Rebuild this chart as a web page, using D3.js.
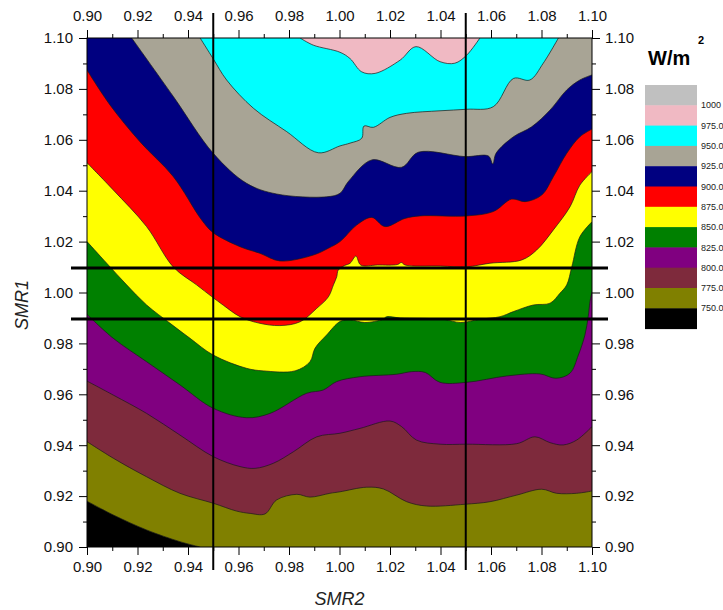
<!DOCTYPE html>
<html>
<head>
<meta charset="utf-8">
<script src="https://cdn.jsdelivr.net/npm/d3@7"></script>
<style>
  body { margin: 0; background: #fff; }
  svg { display: block; font-family: Arial, "Liberation Sans", sans-serif; }
</style>
</head>
<body>
<svg id="chart"></svg>
<script>
// contour levels (W/m2) and their band colours, lowest band first
const levels = [750, 775, 800, 825, 850, 875, 900, 925, 950, 975, 1000];
const bandColors = ["#000000", "#808000", "#7e2a3c", "#800080", "#008000", "#ffff00",
                    "#ff0000", "#000080", "#a8a495", "#00ffff", "#f0b9c3", "#c0c0c0"];
const legendLabels = ["750.0", "775.0", "800.0", "825.0", "850.0", "875.0",
                      "900.0", "925.0", "950.0", "975.0", "1000"];

const xTicks = [0.90, 0.92, 0.94, 0.96, 0.98, 1.00, 1.02, 1.04, 1.06, 1.08, 1.10];
const yTicks = [0.90, 0.92, 0.94, 0.96, 0.98, 1.00, 1.02, 1.04, 1.06, 1.08, 1.10];
const refX = [0.95, 1.05];   // vertical SMR2 lines
const refY = [0.99, 1.01];   // horizontal SMR1 lines

// contour lines as [SMR2, SMR1] points, higher values on the left of travel
const line750 = [[0.90,0.918],[0.9104,0.9126],[0.9236,0.9067],[0.9368,0.9021],[0.9448,0.90]];
const line775 = [[0.90,0.9414],[0.9104,0.9349],[0.9236,0.9276],[0.9368,0.9211],[0.95,0.9172],
  [0.9593,0.9141],[0.9646,0.9132],[0.9705,0.9130],[0.9751,0.9185],[0.9831,0.9207],[0.9883,0.9196],
  [0.9962,0.9211],[1.0002,0.9217],[1.0108,0.9235],[1.0174,0.9228],[1.0266,0.9178],[1.0345,0.9161],
  [1.0497,0.9168],[1.0596,0.9178],[1.0702,0.9204],[1.0801,0.9227],[1.0860,0.9211],[1.0939,0.9211],
  [1.10,0.9220]];
const line800 = [[0.90,0.9652],[0.9104,0.9597],[0.9236,0.9525],[0.9368,0.9440],[0.95,0.9355],
  [0.9606,0.9316],[0.9665,0.9309],[0.9738,0.9329],[0.9817,0.9374],[0.9910,0.9433],[1.0002,0.9447],
  [1.0081,0.9466],[1.0200,0.9495],[1.0246,0.9473],[1.0305,0.9420],[1.0398,0.9404],[1.0504,0.9404],
  [1.0702,0.9406],[1.0774,0.9433],[1.0834,0.9410],[1.0886,0.9401],[1.0939,0.9420],[1.10,0.9473]];
const line825 = [[0.90,0.9914],[0.9104,0.9820],[0.9236,0.9728],[0.9368,0.9637],[0.95,0.9545],
  [0.9632,0.9508],[0.9725,0.9525],[0.9870,0.9604],[0.9936,0.9617],[0.9989,0.9650],[1.0081,0.9669],
  [1.0227,0.9679],[1.0286,0.9689],[1.0339,0.9686],[1.0398,0.9647],[1.0504,0.9647],[1.0662,0.9672],
  [1.0794,0.9680],[1.0857,0.9663],[1.0913,0.9683],[1.0946,0.9754],[1.0972,0.9833],[1.0985,0.9905],
  [1.0992,0.9964],[1.10,1.0003]];
const line850 = [[0.90,1.0200],[0.9078,1.0115],[0.9157,1.0030],[0.9236,0.9951],[0.9329,0.9879],
  [0.9408,0.9820],[0.95,0.9754],[0.9632,0.9702],[0.9698,0.9692],[0.9824,0.9692],[0.9883,0.9728],
  [0.9903,0.9781],[0.9949,0.9833],[1.0002,0.9886],[1.0042,0.9893],[1.0100,0.9882],[1.0172,0.9895],
  [1.0187,0.9905],[1.0240,0.9900],[1.0410,0.9895],[1.0480,0.9882],[1.0556,0.9895],[1.0636,0.9905],
  [1.0689,0.9925],[1.0768,0.9951],[1.0834,0.9958],[1.0873,0.9997],[1.0900,1.0030],[1.0920,1.0101],
  [1.0952,1.0219],[1.10,1.0278]];
const line875 = [[0.90,1.0510],[0.9104,1.0403],[0.9236,1.0259],[0.9342,1.0100],[0.9434,1.0030],
  [0.9494,0.9984],[0.9540,0.9950],[0.9606,0.9905],[0.9680,0.9880],[0.9764,0.9870],[0.9844,0.9885],
  [0.9910,0.9938],[0.9956,0.9983],[0.9976,1.0030],[0.9989,1.0062],[0.9995,1.0088],[1.0020,1.0106],
  [1.0042,1.0115],[1.0065,1.0143],[1.0084,1.0108],[1.0150,1.0108],[1.0230,1.0110],[1.0245,1.0118],
  [1.0260,1.0108],[1.0400,1.0104],[1.0504,1.0101],[1.0596,1.0115],[1.0722,1.0128],[1.0781,1.0167],
  [1.0847,1.0246],[1.0913,1.0337],[1.0952,1.0422],[1.10,1.0475]];
const line900 = [[0.90,1.0874],[0.9091,1.0737],[0.9210,1.0592],[0.9342,1.0455],[0.9454,1.0285],
  [0.95,1.0235],[0.9606,1.0180],[0.9685,1.0154],[0.9764,1.0124],[0.9896,1.0147],[0.9956,1.0174],
  [1.0002,1.0200],[1.0068,1.0265],[1.0128,1.0295],[1.0180,1.0259],[1.0259,1.0291],[1.0319,1.0301],
  [1.0504,1.0301],[1.0609,1.0318],[1.0682,1.0367],[1.0735,1.0357],[1.0801,1.0383],[1.0847,1.0455],
  [1.0900,1.0547],[1.0952,1.0612],[1.10,1.0642]];
const line925 = [[0.9177,1.10],[0.9342,1.0770],[0.95,1.0547],[0.9632,1.0429],[0.9751,1.0387],
  [0.9949,1.0376],[1.0002,1.0390],[1.0035,1.0436],[1.0128,1.0521],[1.0246,1.0492],[1.0312,1.0551],
  [1.0497,1.0534],[1.0590,1.0536],[1.0607,1.0505],[1.0620,1.0547],[1.0689,1.0612],[1.0761,1.0651],
  [1.0834,1.0717],[1.0900,1.0796],[1.0952,1.0835],[1.10,1.0855]];
const line950 = [[0.9448,1.10],[0.95,1.0918],[0.9553,1.0835],[0.9659,1.0724],[0.9791,1.0632],
  [0.9916,1.0549],[1.0002,1.0576],[1.0042,1.0587],[1.0088,1.0606],[1.0097,1.0654],[1.0134,1.0649],
  [1.0200,1.0688],[1.0266,1.0704],[1.0398,1.0714],[1.0504,1.0720],[1.0609,1.0730],[1.0689,1.0841],
  [1.0754,1.0835],[1.0807,1.0901],[1.0867,1.10]];
const line975 = [[0.9844,1.10],[0.9896,1.0972],[1.0002,1.0944],[1.0042,1.0919],[1.0088,1.0867],
  [1.0141,1.0861],[1.0240,1.0913],[1.0303,1.0966],[1.0398,1.0907],[1.0457,1.0901],[1.0504,1.0933],
  [1.0556,1.10]];

const contourLines = [line750, line775, line800, line825, line850, line875,
                      line900, line925, line950, line975];

const width = 723, height = 610;
const margin = { left: 87, right: 131, top: 38, bottom: 63 };
const svg = d3.select("#chart").attr("width", width).attr("height", height);

const x = d3.scaleLinear().domain([0.90, 1.10]).range([margin.left, width - margin.right]);
const y = d3.scaleLinear().domain([0.90, 1.10]).range([height - margin.bottom, margin.top]);
const [x0, x1] = x.domain(), [y0, y1] = y.domain();
const w = x1 - x0, h = y1 - y0;

// position of a border point along the frame, counter-clockwise from bottom-left
function perim([px, py]) {
  const d = [Math.abs(py - y0), Math.abs(px - x1), Math.abs(py - y1), Math.abs(px - x0)];
  const side = d.indexOf(d3.min(d));
  if (side === 0) return px - x0;
  if (side === 1) return w + (py - y0);
  if (side === 2) return w + h + (x1 - px);
  return 2 * w + h + (y1 - py);
}
const corners = [[x1, y0], [x1, y1], [x0, y1], [x0, y0]];
const cornerT = [w, w + h, 2 * w + h, 2 * w + 2 * h];

// frame corners to walk from the end of a contour back to its start (region above the line)
function closingCorners(pts) {
  const tEnd = perim(pts[pts.length - 1]);
  let tStart = perim(pts[0]);
  if (tStart <= tEnd) tStart += 2 * (w + h);
  const extra = [];
  for (let k = 0; k < 8; k++) {
    const t = cornerT[k % 4] + (k >= 4 ? 2 * (w + h) : 0);
    if (t > tEnd && t < tStart) extra.push(corners[k % 4]);
  }
  return extra;
}

const line = d3.line()
  .x(d => x(d[0])).y(d => y(d[1]))
  .curve(d3.curveCatmullRom.alpha(0.5));

function bandPath(pts) {
  const tail = closingCorners(pts).map(c => `L${x(c[0])},${y(c[1])}`).join("");
  return line(pts) + tail + "Z";
}

svg.append("defs").append("clipPath").attr("id", "plotClip")
  .append("rect")
  .attr("x", x(x0)).attr("y", y(y1))
  .attr("width", x(x1) - x(x0)).attr("height", y(y0) - y(y1));

const plot = svg.append("g").attr("clip-path", "url(#plotClip)");

// lowest band as background, then each band above its contour
plot.append("rect")
  .attr("x", x(x0)).attr("y", y(y1))
  .attr("width", x(x1) - x(x0)).attr("height", y(y0) - y(y1))
  .attr("fill", bandColors[0]);

plot.selectAll(".band")
  .data(contourLines)
  .enter().append("path")
  .attr("class", "band")
  .attr("d", d => bandPath(d))
  .attr("fill", (d, i) => bandColors[i + 1]);

plot.selectAll(".cline")
  .data(contourLines)
  .enter().append("path")
  .attr("class", "cline")
  .attr("d", d => line(d))
  .attr("fill", "none")
  .attr("stroke", "#1a1a1a")
  .attr("stroke-width", 0.7);

// frame
svg.append("rect")
  .attr("x", x(x0)).attr("y", y(y1))
  .attr("width", x(x1) - x(x0)).attr("height", y(y0) - y(y1))
  .attr("fill", "none").attr("stroke", "#000").attr("stroke-width", 1);

// axes: major ticks with labels, minor ticks in between
const fmt = d3.format(".2f");
const xMinor = d3.range(0.91, 1.10, 0.02);
const yMinor = d3.range(0.91, 1.10, 0.02);

function drawAxis(axis, transform) {
  const g = svg.append("g").attr("transform", transform).call(axis);
  g.select(".domain").remove();
  g.selectAll("text").attr("font-size", 15).attr("fill", "#111")
    .attr("font-family", "Arial, 'Liberation Sans', sans-serif");
  return g;
}

drawAxis(d3.axisBottom(x).tickValues(xTicks).tickFormat(fmt).tickSize(8).tickPadding(6),
  `translate(0,${y(y0)})`);
drawAxis(d3.axisBottom(x).tickValues(xMinor).tickFormat("").tickSize(4), `translate(0,${y(y0)})`);
drawAxis(d3.axisTop(x).tickValues(xTicks).tickFormat(fmt).tickSize(8).tickPadding(9),
  `translate(0,${y(y1)})`);
drawAxis(d3.axisTop(x).tickValues(xMinor).tickFormat("").tickSize(4), `translate(0,${y(y1)})`);
drawAxis(d3.axisLeft(y).tickValues(yTicks).tickFormat(fmt).tickSize(8).tickPadding(6),
  `translate(${x(x0)},0)`);
drawAxis(d3.axisLeft(y).tickValues(yMinor).tickFormat("").tickSize(4), `translate(${x(x0)},0)`);
drawAxis(d3.axisRight(y).tickValues(yTicks).tickFormat(fmt).tickSize(8).tickPadding(5),
  `translate(${x(x1)},0)`);
drawAxis(d3.axisRight(y).tickValues(yMinor).tickFormat("").tickSize(4), `translate(${x(x1)},0)`);

// reference lines on top
svg.selectAll(".vref")
  .data(refX)
  .enter().append("line")
  .attr("x1", d => x(d)).attr("x2", d => x(d))
  .attr("y1", y(y1) - 25).attr("y2", y(y0) + 23)
  .attr("stroke", "#000").attr("stroke-width", 2);

svg.selectAll(".href")
  .data(refY)
  .enter().append("line")
  .attr("x1", x(x0) - 16).attr("x2", x(x1) + 16)
  .attr("y1", d => y(d) + 1).attr("y2", d => y(d) + 1)
  .attr("stroke", "#000").attr("stroke-width", 3);

// axis titles
svg.append("text")
  .attr("x", (x(x0) + x(x1)) / 2).attr("y", 605)
  .attr("text-anchor", "middle")
  .attr("font-size", 18).attr("font-style", "italic").attr("fill", "#222")
  .text("SMR2");

svg.append("text")
  .attr("transform", "translate(28,305) rotate(-90)")
  .attr("text-anchor", "middle")
  .attr("font-size", 18).attr("font-style", "italic").attr("fill", "#222")
  .text("SMR1");

// legend
const legendTop = 85, boxH = 20.3, boxX = 645, boxW = 52;
const legendColors = bandColors.slice().reverse();

svg.append("text")
  .attr("x", 648).attr("y", 65)
  .attr("font-size", 20).attr("font-weight", "bold").attr("fill", "#000")
  .text("W/m");
svg.append("text")
  .attr("x", 698).attr("y", 44)
  .attr("font-size", 11).attr("font-weight", "bold").attr("fill", "#000")
  .text("2");

svg.selectAll(".lbox")
  .data(legendColors)
  .enter().append("rect")
  .attr("x", boxX).attr("y", (d, i) => legendTop + i * boxH)
  .attr("width", boxW).attr("height", boxH + 0.5)
  .attr("fill", d => d);

svg.selectAll(".llab")
  .data(legendLabels.slice().reverse())
  .enter().append("text")
  .attr("x", 701).attr("y", (d, i) => legendTop + (i + 1) * boxH)
  .attr("dy", "0.35em")
  .attr("font-size", 9).attr("fill", "#222")
  .text(d => d);
</script>
</body>
</html>
